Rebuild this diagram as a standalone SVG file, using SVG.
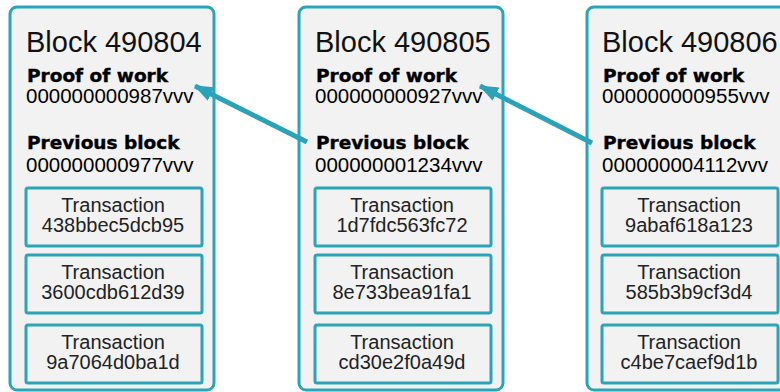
<svg xmlns="http://www.w3.org/2000/svg" width="780" height="392" viewBox="0 0 780 392">
<defs>
<marker id="ah" markerUnits="userSpaceOnUse" markerWidth="20" markerHeight="20" viewBox="0 0 20 20" refX="18" refY="10" orient="auto">
<path d="M0,2.5 L19,10 L0,17.5 Z" fill="#2ba2b7"/>
</marker>
<style>
.blk{fill:#f2f2f2;stroke:#2ba3b8;stroke-width:3}
.tx{fill:#f2f2f2;stroke:#2ba3b8;stroke-width:3}
.title{font-family:"Liberation Sans",Arial,sans-serif;font-size:29px;fill:#111}
.lbl{font-family:"DejaVu Sans","Liberation Sans",sans-serif;font-weight:bold;font-size:18.5px;fill:#000;stroke:#000;stroke-width:0.4}
.val{font-family:"Liberation Sans",Arial,sans-serif;font-size:20.5px;fill:#000}
.tt{font-family:"Liberation Sans",Arial,sans-serif;font-size:20px;fill:#222;text-anchor:middle}
.conn{stroke:#2ba2b7;stroke-width:5;fill:none}
</style>
</defs>
<rect width="780" height="392" fill="#ffffff"/>
<g id="block490804">
<rect class="blk" x="10" y="7" width="204" height="383" rx="7"/>
<text class="title" x="26" y="52">Block 490804</text>
<text class="lbl" x="27" y="82">Proof of work</text>
<text class="val" x="26" y="103">000000000987vvv</text>
<text class="lbl" x="27" y="149">Previous block</text>
<text class="val" x="26" y="172">000000000977vvv</text>
<rect class="tx" x="26" y="188" width="176" height="58" rx="2"/>
<text class="tt" x="113" y="212">Transaction</text><text class="tt" x="113" y="232">438bbec5dcb95</text>
<rect class="tx" x="26" y="255" width="176" height="58" rx="2"/>
<text class="tt" x="113" y="279">Transaction</text><text class="tt" x="113" y="299">3600cdb612d39</text>
<rect class="tx" x="26" y="325" width="176" height="58" rx="2"/>
<text class="tt" x="113" y="349">Transaction</text><text class="tt" x="113" y="369">9a7064d0ba1d</text>
</g>
<g id="block490805">
<rect class="blk" x="299" y="7" width="204" height="383" rx="7"/>
<text class="title" x="315" y="52">Block 490805</text>
<text class="lbl" x="316" y="82">Proof of work</text>
<text class="val" x="315" y="103">000000000927vvv</text>
<text class="lbl" x="316" y="149">Previous block</text>
<text class="val" x="315" y="172">000000001234vvv</text>
<rect class="tx" x="315" y="188" width="176" height="58" rx="2"/>
<text class="tt" x="402" y="212">Transaction</text><text class="tt" x="402" y="232">1d7fdc563fc72</text>
<rect class="tx" x="315" y="255" width="176" height="58" rx="2"/>
<text class="tt" x="402" y="279">Transaction</text><text class="tt" x="402" y="299">8e733bea91fa1</text>
<rect class="tx" x="315" y="325" width="176" height="58" rx="2"/>
<text class="tt" x="402" y="349">Transaction</text><text class="tt" x="402" y="369">cd30e2f0a49d</text>
</g>
<g id="block490806">
<rect class="blk" x="587" y="7" width="204" height="383" rx="7"/>
<text class="title" x="602" y="52">Block 490806</text>
<text class="lbl" x="603" y="82">Proof of work</text>
<text class="val" x="602" y="103">000000000955vvv</text>
<text class="lbl" x="603" y="149">Previous block</text>
<text class="val" x="602" y="172">000000004112vvv</text>
<rect class="tx" x="602" y="188" width="176" height="58" rx="2"/>
<text class="tt" x="689" y="212">Transaction</text><text class="tt" x="689" y="232">9abaf618a123</text>
<rect class="tx" x="602" y="255" width="176" height="58" rx="2"/>
<text class="tt" x="689" y="279">Transaction</text><text class="tt" x="689" y="299">585b3b9cf3d4</text>
<rect class="tx" x="602" y="325" width="176" height="58" rx="2"/>
<text class="tt" x="689" y="349">Transaction</text><text class="tt" x="689" y="369">c4be7caef9d1b</text>
</g>
<g id="connectors">
<line class="conn" x1="307" y1="142" x2="195" y2="86" marker-end="url(#ah)"/>
<line class="conn" x1="592" y1="143" x2="480" y2="86" marker-end="url(#ah)"/>
</g>
</svg>
